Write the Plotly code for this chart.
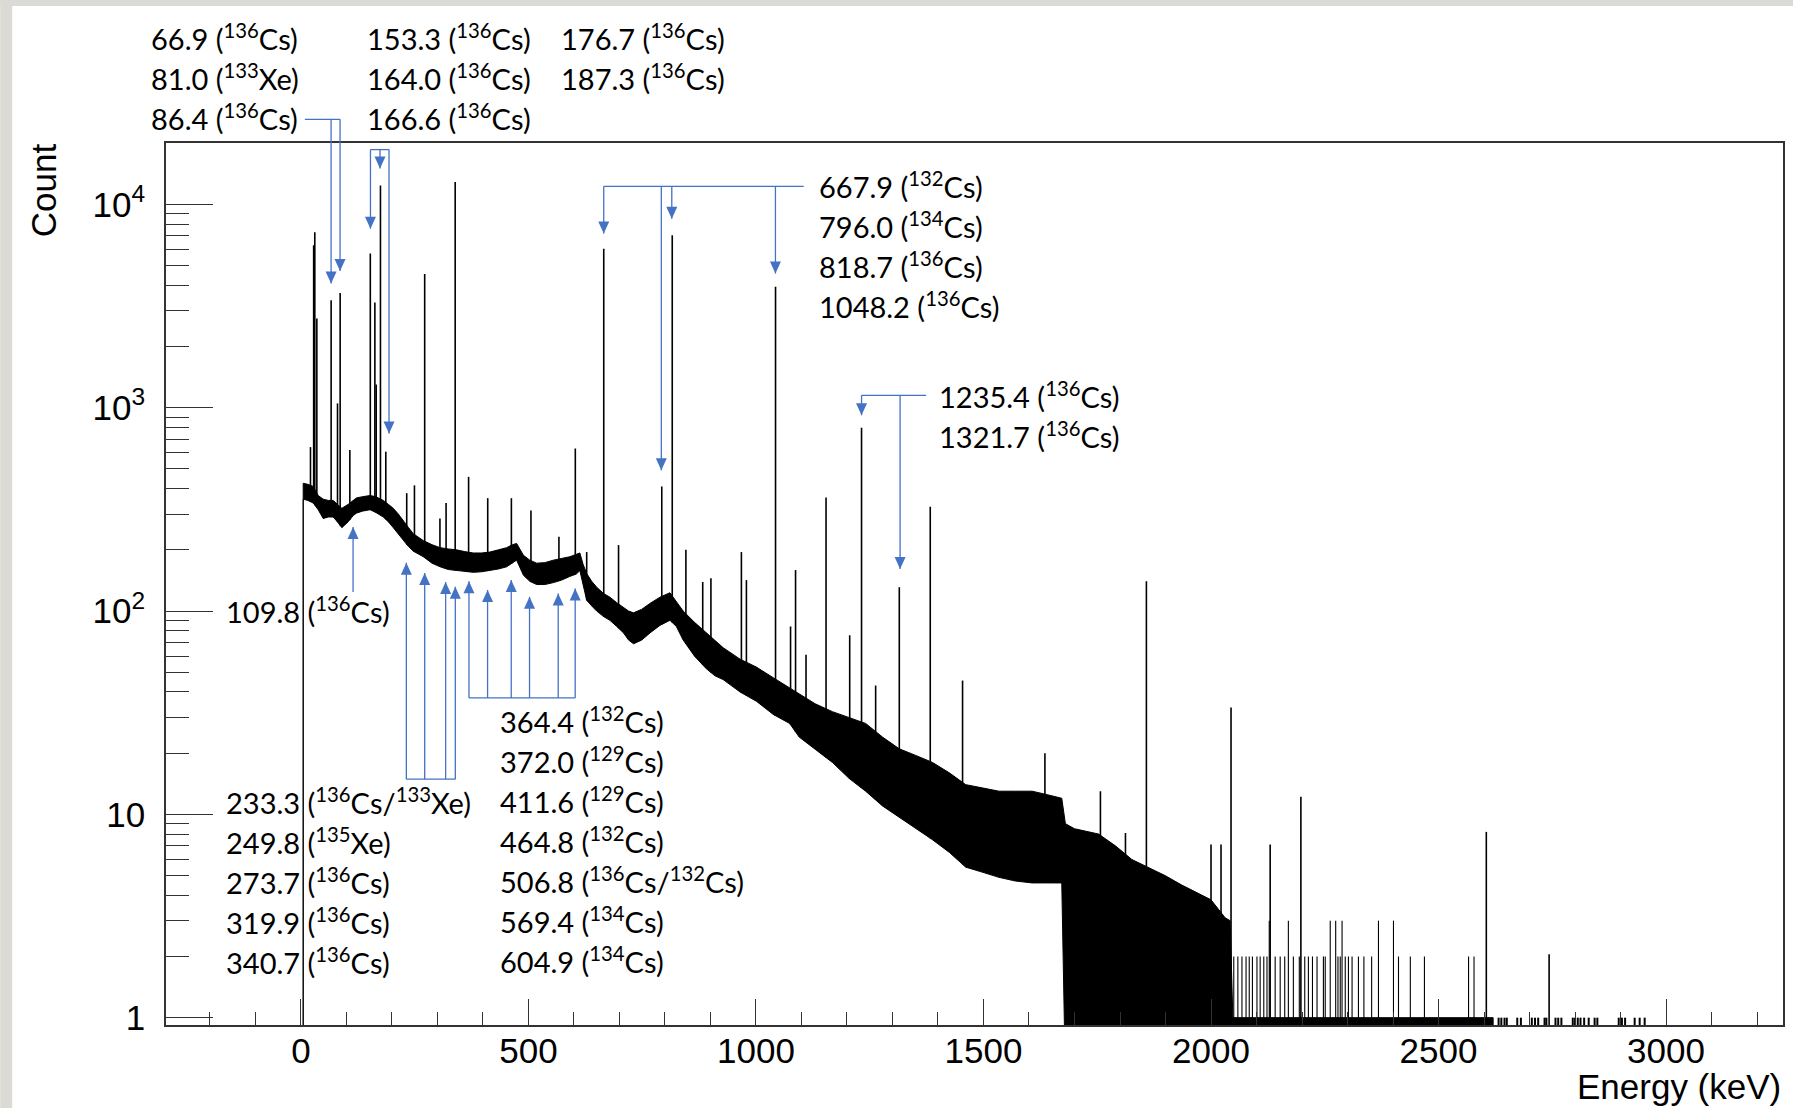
import numpy as np
import plotly.graph_objects as go

# ---- spectrum ----
# continuum band: energy (keV), lower and upper edge of the noisy band (counts)
# 0.5 stands for empty bins (they fall below the log axis)
cont_e = [5, 5, 15, 27, 38, 49, 60, 71, 80, 90,
          104, 115, 122, 135, 152, 165, 181, 192, 203, 214,
          225, 236, 247, 258, 269, 288, 306, 324, 342, 360,
          379, 397, 415, 434, 452, 465, 474, 489, 503, 518,
          536, 555, 573, 591, 605, 613, 620, 628, 639, 650,
          665, 679, 694, 709, 720, 731, 749, 767, 789, 811,
          825, 840, 865, 891, 910, 928, 965, 1001, 1038, 1074,
          1095, 1130, 1168, 1205, 1241, 1278, 1315, 1351, 1388, 1425,
          1461, 1497, 1534, 1570, 1607, 1640, 1672, 1680, 1700, 1753,
          1790, 1826, 1862, 1899, 1935, 1972, 2000, 2031, 2042, 2048,
          2450, 2620, 2620]
cont_lo = [0.5, 355, 350, 340, 315, 285, 290, 290, 275, 257,
           275, 295, 303, 310, 315, 305, 290, 275, 257, 240,
           222, 208, 197, 190, 185, 172, 165, 160, 158, 156,
           155, 156, 158, 161, 165, 172, 178, 150, 140, 135,
           135, 138, 142, 148, 152, 158, 135, 113, 106, 100,
           94, 90, 84, 78, 72, 69, 72, 78, 85, 90,
           84, 72, 60, 52, 48, 46, 40, 36, 31, 28,
           24, 21, 18, 15, 13, 11, 9.7, 8.5, 7.5, 6.5,
           5.5, 5.2, 4.9, 4.7, 4.6, 4.6, 4.6, 0.5, 0.5, 0.5,
           0.5, 0.5, 0.5, 0.5, 0.5, 0.5, 0.5, 0.5, 0.5, 0.5,
           0.5, 0.5, 0.5]
cont_hi = [0.5, 425, 420, 410, 370, 355, 350, 350, 335, 320,
           335, 350, 360, 365, 370, 365, 350, 335, 320, 300,
           280, 258, 240, 230, 222, 212, 205, 202, 200, 196,
           193, 193, 195, 200, 205, 212, 215, 188, 178, 172,
           173, 178, 182, 185, 190, 193, 170, 153, 140, 131,
           122, 117, 110, 104, 100, 98, 102, 109, 117, 123,
           112, 100, 88, 78, 72, 66, 58, 53, 47, 42,
           39, 35, 32, 30, 28, 24, 21, 19.5, 18, 16,
           14, 13.5, 13, 13, 13, 12.5, 12, 9, 8.5, 8,
           7, 6, 5.5, 5, 4.5, 4.1, 3.8, 3.1, 3, 1,
           1, 1, 0.5]

# peaks standing out of the continuum: energy (keV) and top (counts)
peak_e = [21, 28, 30.5, 35, 66.4, 80.4, 86.2, 107.5,
          152.5, 162.5, 165.5, 174.8, 186.5,
          232.5, 249.5, 272, 305.5, 319, 339,
          368.5, 410.5, 462.5, 505.5, 567, 603, 628,
          665.5, 698, 793, 816, 846, 883, 901, 968, 979,
          1043, 1076, 1087, 1110, 1154, 1206, 1232, 1263, 1315, 1383, 1454,
          1635, 1757, 1812, 1858, 2000, 2022, 2044, 2130, 2197.5, 2605, 2743]
peak_h = [640, 6300, 7300, 2750, 3380, 1050, 3670, 620,
          5730, 3290, 1300, 12400, 608,
          380, 415, 4550, 285, 340, 12900,
          457, 359, 359, 312, 232, 630, 195,
          6050, 211, 410, 7050, 200, 139, 145, 195, 142,
          3940, 84, 159, 61, 362, 76, 798, 43, 131, 326, 45.5,
          20, 13, 8.1, 140, 7.1, 7.1, 33.5, 7.1, 12.2, 8.2, 2.05]

# lone bins in the sparse high-energy tail (keV), with 3, 2 and 1 counts
bins3_e = [2128, 2170, 2262, 2274, 2288, 2368, 2401]
bins2_e = [2050, 2059, 2068, 2077, 2084, 2091, 2101, 2108, 2116, 2123,
           2141, 2152, 2162, 2181, 2194, 2206, 2214, 2223, 2233, 2247,
           2251, 2279, 2284, 2295, 2302, 2310, 2324, 2336, 2353, 2412,
           2438, 2469, 2566, 2578]
bins1_e = [2632, 2638, 2645, 2650, 2673, 2681, 2705, 2712, 2719, 2733,
           2737, 2757, 2763, 2770, 2795, 2800, 2806, 2812, 2820, 2830,
           2843, 2849, 2896, 2903, 2910, 2931, 2942, 2953]

# y axis ticks
major_vals = [1, 10, 100, 1000, 10000]
major_text = ["1", "10", "10<sup>2</sup>", "10<sup>3</sup>", "10<sup>4</sup>"]
minor_vals = [m * 10 ** d for d in range(4) for m in range(2, 10)]

# callouts: bracket height (counts), bracket span (keV), arrow energies (keV), arrow tips (counts)
callout_bar = [26200, 18600, 12270, 1151, 124, 14.9, 37.4]
callout_span = [(8.7, 86.0), (152.8, 193.6), (665.5, 1105), (1232, 1374), None,
                (231.7, 339.3), (369.3, 602.7)]
callout_arrows = [[66.3, 86.0], [152.8, 173.8, 193.6], [665.5, 792, 815, 1042.8],
                  [1232, 1316.7], [114.6], [231.7, 272, 318, 339.3],
                  [369.3, 410.2, 462.2, 502.4, 565.4, 602.7]]
callout_tips = [[4080, 4710], [7600, 15000, 746], [7190, 493, 8510, 4570],
                [918, 161], [259], [173, 154, 139, 131.5],
                [140, 127, 142, 117.5, 122, 129]]

# line labels
label_rows = [
    ["66.9 (<sup>136</sup>Cs)", "81.0 (<sup>133</sup>Xe)", "86.4 (<sup>136</sup>Cs)"],
    ["153.3 (<sup>136</sup>Cs)", "164.0 (<sup>136</sup>Cs)", "166.6 (<sup>136</sup>Cs)"],
    ["176.7 (<sup>136</sup>Cs)", "187.3 (<sup>136</sup>Cs)"],
    ["667.9 (<sup>132</sup>Cs)", "796.0 (<sup>134</sup>Cs)", "818.7 (<sup>136</sup>Cs)",
     "1048.2 (<sup>136</sup>Cs)"],
    ["1235.4 (<sup>136</sup>Cs)", "1321.7 (<sup>136</sup>Cs)"],
    ["109.8 (<sup>136</sup>Cs)"],
    ["233.3 (<sup>136</sup>Cs/<sup>133</sup>Xe)", "249.8 (<sup>135</sup>Xe)",
     "273.7 (<sup>136</sup>Cs)", "319.9 (<sup>136</sup>Cs)", "340.7 (<sup>136</sup>Cs)"],
    ["364.4 (<sup>132</sup>Cs)", "372.0 (<sup>129</sup>Cs)", "411.6 (<sup>129</sup>Cs)",
     "464.8 (<sup>132</sup>Cs)", "506.8 (<sup>136</sup>Cs/<sup>132</sup>Cs)",
     "569.4 (<sup>134</sup>Cs)", "604.9 (<sup>134</sup>Cs)"],
]
# left edge and first-row centre of each label block (pixels)
label_left = [149, 365, 559, 818, 938, 224, 224, 498]
label_top = [37, 37, 37, 185, 395, 610, 801, 720]
row_step = 40

# ---- page geometry ----
W, H = 1795, 1108
ML, MR, MT, MB = 166, 10, 143, 83
plot_w, plot_h = W - ML - MR, H - MT - MB
x_range = [-296.5, 3257]
y_range = [-0.036, 4.302]
blue = "#4472c4"


def paper_x(px):
    return (px - ML) / plot_w


def paper_y(py):
    return (H - MB - py) / plot_h


def count_to_paper(c):
    return (np.log10(c) - y_range[0]) / (y_range[1] - y_range[0])


log_lo = np.log10(cont_lo)


def band_floor(e):
    return 10 ** np.interp(e, cont_e, log_lo)


fig = go.Figure()

# continuum band
fig.add_trace(go.Scatter(x=cont_e, y=cont_lo, mode="lines",
                         line=dict(color="black", width=1), hoverinfo="skip"))
fig.add_trace(go.Scatter(x=cont_e, y=cont_hi, mode="lines",
                         line=dict(color="black", width=1),
                         fill="tonexty", fillcolor="black", hoverinfo="skip"))

# peaks as spikes out of the band
sx, sy = [], []
for e, h in zip(peak_e, peak_h):
    sx += [e, e, None]
    sy += [band_floor(e), h, None]
fig.add_trace(go.Scatter(x=sx, y=sy, mode="lines",
                         line=dict(color="black", width=1.6), hoverinfo="skip"))

# sparse bins in the tail
bx, by = [], []
for e in bins3_e:
    bx += [e, e, None]
    by += [0.5, 3, None]
for e in bins2_e:
    bx += [e, e, None]
    by += [0.5, 2, None]
fig.add_trace(go.Scatter(x=bx, y=by, mode="lines",
                         line=dict(color="black", width=1.1), hoverinfo="skip"))
ox, oy = [], []
for e in bins1_e:
    ox += [e, e, None]
    oy += [0.5, 1, None]
fig.add_trace(go.Scatter(x=ox, y=oy, mode="lines",
                         line=dict(color="black", width=2), hoverinfo="skip"))

# callout brackets and arrows
for bar, span, arrows, tips in zip(callout_bar, callout_span, callout_arrows, callout_tips):
    y_bar = count_to_paper(bar)
    if span is not None:
        fig.add_shape(type="line", xref="x", yref="paper",
                      x0=span[0], x1=span[1], y0=y_bar, y1=y_bar,
                      line=dict(color=blue, width=1.3))
    for e, tip in zip(arrows, tips):
        y_tip = count_to_paper(tip)
        fig.add_shape(type="line", xref="x", yref="paper",
                      x0=e, x1=e, y0=y_bar, y1=y_tip,
                      line=dict(color=blue, width=1.3))
        head = 12 if bar > tip else -12
        fig.add_shape(type="path", xref="x", yref="paper",
                      xsizemode="pixel", ysizemode="pixel", xanchor=e, yanchor=y_tip,
                      path=f"M0,0 L-5.5,{head} L5.5,{head} Z",
                      fillcolor=blue, line=dict(width=0))

# labels
for rows, left, top in zip(label_rows, label_left, label_top):
    for i, t in enumerate(rows):
        fig.add_annotation(x=paper_x(left), y=paper_y(top + i * row_step),
                           xref="paper", yref="paper", xanchor="left", yanchor="middle",
                           text=t, showarrow=False,
                           font=dict(family="Lato", size=29, color="black"))

# axis titles
fig.add_annotation(x=paper_x(43), y=paper_y(190), xref="paper", yref="paper",
                   xanchor="center", yanchor="middle",
                   text="Count", textangle=-90, showarrow=False,
                   font=dict(family="Liberation Sans", size=35, color="black"))
fig.add_annotation(x=1.0, y=paper_y(1086), xref="paper", yref="paper",
                   xanchor="right", yanchor="middle", text="Energy (keV)", showarrow=False,
                   font=dict(family="Liberation Sans", size=35, color="black"))

# grey slide border
fig.add_shape(type="rect", xref="paper", yref="paper", layer="below",
              x0=paper_x(0), x1=paper_x(12), y0=paper_y(H), y1=paper_y(0),
              fillcolor="#dcdad5", line=dict(width=0))
fig.add_shape(type="rect", xref="paper", yref="paper", layer="below",
              x0=paper_x(0), x1=paper_x(W), y0=paper_y(6), y1=paper_y(0),
              fillcolor="#dcdad5", line=dict(width=0))

fig.update_xaxes(range=x_range, showgrid=False, zeroline=False,
                 showline=True, linecolor="#333", linewidth=1.6, mirror=True,
                 ticks="inside", ticklen=26, tickwidth=1.2, tickcolor="#333",
                 tick0=0, dtick=500, ticklabelstandoff=-6,
                 tickfont=dict(family="Liberation Sans", size=35, color="black"),
                 minor=dict(ticks="inside", dtick=100, tick0=0, ticklen=13,
                            tickwidth=1.2, tickcolor="#333"))
fig.update_yaxes(type="log", range=y_range, showgrid=False, zeroline=False,
                 showline=True, linecolor="#333", linewidth=1.6, mirror=True,
                 ticks="inside", ticklen=47, tickwidth=1.2, tickcolor="#333",
                 tickmode="array", tickvals=major_vals, ticktext=major_text,
                 ticklabelstandoff=12,
                 tickfont=dict(family="Liberation Sans", size=35, color="black"),
                 minor=dict(ticks="inside", tickmode="array", tickvals=minor_vals,
                            ticklen=23, tickwidth=1.2, tickcolor="#333"))

fig.update_layout(width=W, height=H, autosize=False,
                  margin=dict(l=ML, r=MR, t=MT, b=MB),
                  paper_bgcolor="white", plot_bgcolor="white",
                  showlegend=False,
                  font=dict(family="Liberation Sans", color="black"))

# drop the page's default body margin so the figure sits at the window corner
fig.write_html("out.html", config={"displayModeBar": False},
               post_script="document.body.style.margin='0px';")
